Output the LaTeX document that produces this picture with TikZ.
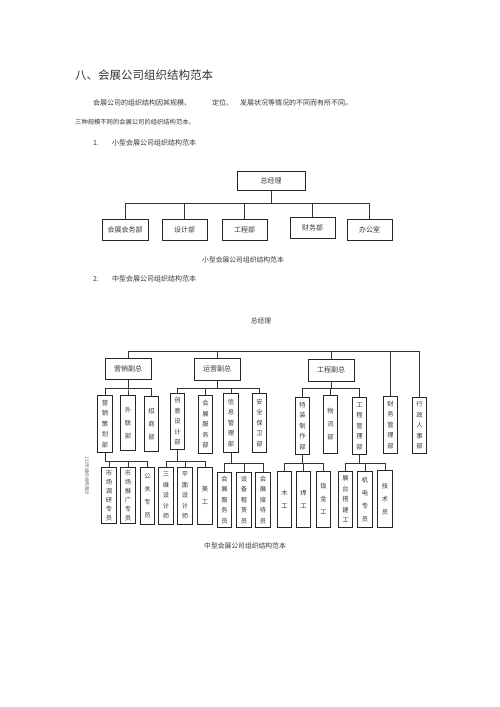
\documentclass[tikz,border=0pt]{standalone}
\usepackage{fontspec}
\setmainfont{Noto Sans CJK SC}
\usetikzlibrary{calc}
\begin{document}
\begin{tikzpicture}[x=1pt,y=-1pt,
 every node/.style={inner sep=0pt, text=black!78},
 hbox/.style={draw=black!85, line width=0.6pt, minimum width=46pt, minimum height=21pt, font=\fontsize{7}{8}\selectfont},
 vb/.style={draw=black!85, line width=0.6pt, anchor=north, minimum width=14.5pt, align=center, font=\fontsize{6.3}{10.5}\selectfont},
 vbw/.style={vb, font=\fontsize{6.3}{13}\selectfont},
 vbn/.style={vb, font=\fontsize{6.3}{9}\selectfont},
 thk/.style={line width=1.0pt},
 ln/.style={draw=black!80, line width=0.55pt},
 body/.style={font=\fontsize{7}{8}\selectfont, anchor=west}
]
\useasboundingbox[fill=white] (0,0) rectangle (500,707);

% ---- texts ----
\node[anchor=west, font=\fontsize{11.5}{13}\selectfont, text=black!80] (title) at (75,75) {八、会展公司组织结构范本};
\node[body] (p1a) at (93,103) {会展公司的组织结构因其规模、};
\node[body] (p1b) at (212,103) {定位、};
\node[body] (p1c) at (240,103) {发展状况等情况的不同而有所不同。};
\node[body, font=\fontsize{6.3}{8}\selectfont] (p2) at (75,122) {三种规模不同的会展公司的组织结构范本。};
\node[body] (n1) at (93,143) {1.};
\node[body] (h1) at (112,143) {小型会展公司组织结构范本};
\node[font=\fontsize{6.8}{8}\selectfont] (cap1) at (243,260) {小型会展公司组织结构范本};
\node[body] (n2) at (93,279) {2.};
\node[body] (h2) at (112,279) {中型会展公司组织结构范本};
\node[font=\fontsize{6.8}{8}\selectfont] (cap2) at (245,546) {中型会展公司组织结构范本};

% ---- small chart ----
\node[hbox, thk, minimum width=68pt, minimum height=19pt] (gm1) at (271,180.5) {总经理};
\node[hbox, thk] (s1) at (125,229.5) {会展会务部};
\node[hbox, thk, minimum width=45pt] (s2) at (184.5,229.5) {设计部};
\node[hbox, thk, minimum width=45pt] (s3) at (244.5,229.5) {工程部};
\node[hbox, thk, minimum width=45pt] (s4) at (312.5,227.5) {财务部};
\node[hbox, thk, minimum width=45pt] (s5) at (369.5,229.5) {办公室};
\coordinate (busS) at (0,203);
\foreach \c in {s1,s2,s3,s4,s5} \draw[ln] (gm1.south) -- (gm1.south |- busS) -| (\c.north);

% ---- medium chart ----
\node[font=\fontsize{6.8}{8}\selectfont] (gm2) at (261,321) {总经理};
\node[hbox, thk] (v1) at (128,368.5) {营销副总};
\node[hbox, minimum height=22pt] (v2) at (217,369) {运营副总};
\node[hbox, minimum height=22pt] (v3) at (331,370) {工程副总};

\node[vb, minimum height=57pt] (a1) at (105,395) {营\\销\\策\\划\\部};
\node[vbw, thk, minimum height=55pt] (a2) at (128,395) {外\\联\\部};
\node[vbw, minimum height=55pt] (a3) at (151.5,396) {招\\商\\部};
\node[vb, minimum height=56pt] (b1) at (177.5,393) {创\\意\\设\\计\\部};
\node[vb, minimum height=58pt] (b2) at (205.5,395) {会\\展\\服\\务\\部};
\node[vb, minimum height=59pt] (b3) at (231,393) {信\\息\\管\\理\\部};
\node[vb, thk, minimum height=59pt] (b4) at (259.5,393) {安\\全\\保\\卫\\部};
\node[vb, minimum height=57pt] (c1) at (302.5,397) {特\\装\\制\\作\\部};
\node[vbw, thk, minimum height=58pt] (c2) at (330.5,395) {物\\流\\部};
\node[vb, thk, minimum height=57pt] (c3) at (359.5,397) {工\\程\\管\\理\\部};
\node[vb, minimum height=57pt] (d1) at (390.5,396) {财\\务\\管\\理\\部};
\node[vb, minimum height=56pt] (d2) at (419.5,397) {行\\政\\人\\事\\部};

\coordinate (busT) at (0,351);
\draw[ln] (v1.north) -- (v1.north |- busT) -- (d2.north |- busT) -- (d2.north);
\foreach \c in {v2,v3,d1} \draw[ln] (\c.north) -- (\c.north |- busT);

\coordinate (busA) at (0,388);
\foreach \c in {a1,a2,a3} \draw[ln] (v1.south) -- (v1.south |- busA) -| (\c.north);
\foreach \c in {b1,b2,b3,b4} \draw[ln] (v2.south) -- (v2.south |- busA) -| (\c.north);
\foreach \c in {c1,c2,c3} \draw[ln] (v3.south) -- (v3.south |- busA) -| (\c.north);

\node[vbn, thk, minimum height=56pt] (e1) at (109,467) {市\\场\\调\\研\\专\\员};
\node[vbn, thk, minimum height=56pt] (e2) at (128,467) {市\\场\\推\\广\\专\\员};
\node[vbw, minimum height=57pt] (e3) at (147.5,467) {公\\关\\专\\员};
\node[vb, minimum height=57pt] (f1) at (166,467) {三\\维\\设\\计\\师};
\node[vb, minimum height=57pt] (f2) at (185,467) {平\\面\\设\\计\\师};
\node[vbw, minimum height=57pt] (f3) at (205,467) {美\\工};
\node[vb, minimum height=55pt] (g1) at (224.5,472) {会\\展\\服\\务\\员};
\node[vb, thk, minimum height=55pt] (g2) at (244,472) {设\\备\\租\\赁\\员};
\node[vb, minimum height=55pt] (g3) at (263,472) {会\\展\\接\\待\\员};
\node[vbw, minimum height=56pt] (k1) at (284.5,471) {木\\工};
\node[vbw, minimum height=56pt] (k2) at (303.5,471) {焊\\工};
\node[vbw, minimum height=56pt] (k3) at (323.5,471) {钣\\金\\工};
\node[vb, minimum height=56pt] (m1) at (345.5,471) {展\\台\\搭\\建\\工};
\node[vbw, minimum height=56pt] (m2) at (365,471) {机\\电\\专\\员};
\node[vbw, minimum height=57pt] (m3) at (385,470) {技\\术\\员};

\coordinate (busP) at (0,461);
\coordinate (busQ) at (0,463);
\foreach \c in {e1,e2,e3} \draw[ln] (a1.south) -- (a1.south |- busP) -| (\c.north);
\foreach \c in {f1,f2,f3} \draw[ln] (b1.south) -- (b1.south |- busP) -| (\c.north);
\foreach \c in {g1,g2,g3} \draw[ln] (b3.south) -- (b3.south |- busQ) -| (\c.north);
\foreach \c in {k1,k2,k3} \draw[ln] (c1.south) -- (c1.south |- busQ) -| (\c.north);
\foreach \c in {m1,m2,m3} \draw[ln] (c3.south) -- (c3.south |- busQ) -| (\c.north);

\node[rotate=-90, font=\fontsize{4.5}{5}\selectfont, text=black!60] (side) at (87,476) {1公司组织结构图示};
\end{tikzpicture}
\end{document}
